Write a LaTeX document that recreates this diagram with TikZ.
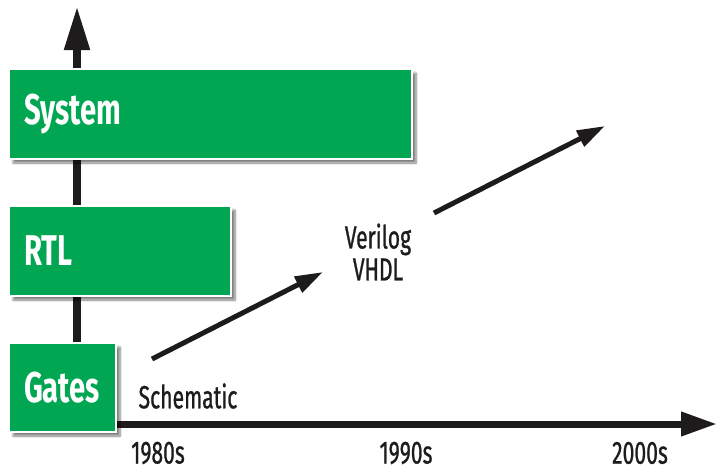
\documentclass[tikz,border=0pt]{standalone}
\usepackage{fontspec}
\setmainfont[FakeStretch=0.68]{Fira Sans}
\newfontfamily\lblfont[FakeStretch=0.66, FakeBold=0.8]{Fira Sans}
\usetikzlibrary{arrows.meta,backgrounds,shadows.blur}
\definecolor{boxgreen}{RGB}{0,166,81}
\definecolor{axisgray}{RGB}{30,27,28}

\begin{document}
\begin{tikzpicture}[x=1pt,y=-1pt,
        level/.style={fill=boxgreen, draw=white, line width=2pt, anchor=north west,
            inner xsep=15pt, minimum height=90pt, align=left, text=white,
            font=\fontsize{43}{43}\selectfont\bfseries,
            blur shadow={shadow xshift=4pt, shadow yshift=-4pt, shadow blur steps=8, shadow opacity=50}},
        lbl/.style={text=axisgray, font=\fontsize{32}{32}\selectfont\lblfont},
        axis/.style={draw=axisgray, line width=8pt},
        trend/.style={draw=axisgray, line width=5pt, -{Triangle[length=28pt,width=17pt]}}]
        \useasboundingbox (0,0) rectangle (718,471);

        \node[level, text width=373pt] (system) at (8,68) {System};
        \node[level, text width=192pt] (rtl) at (8,205) {RTL};
        \node[level, text width=77pt, minimum height=89pt] (gates) at (8,342) {Gates};

        \coordinate (vtop) at (77,6);
        \coordinate (htip) at (717,424);
        \begin{pgfonlayer}{background}
            \draw[axis, -{Triangle[length=44pt,width=24pt]}] (vtop |- gates.north) -- (vtop);
            \draw[axis, line width=7pt, -{Triangle[length=36pt,width=23pt]}] (gates.east |- htip) -- (htip);
        \end{pgfonlayer}

        \node[lbl] (schem) at (188,396) {Schematic};
        \node[lbl, align=center] (hdl) at (378,252) {Verilog\\VHDL};

        \node[lbl] (d1980) at (158,453) {1980s};
        \node[lbl] (d1990) at (406,453) {1990s};
        \node[lbl] (d2000) at (640,453) {2000s};

        \coordinate (s1) at (152,359);
        \coordinate (e1) at (323,272);
        \coordinate (s2) at (434,213);
        \coordinate (e2) at (605,126);
        \draw[trend] (s1) -- (e1);
        \draw[trend] (s2) -- (e2);
    \end{tikzpicture}
\end{document}
